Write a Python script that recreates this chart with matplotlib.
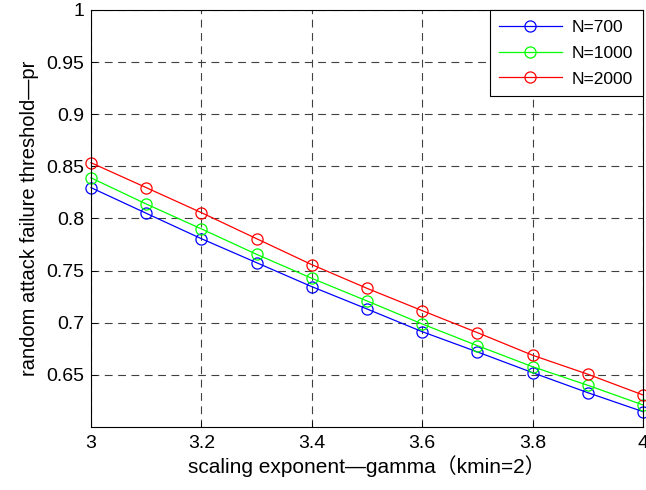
import matplotlib
matplotlib.use("Agg")
import matplotlib.pyplot as plt

# gamma values on x axis
gamma = [3.0, 3.1, 3.2, 3.3, 3.4, 3.5, 3.6, 3.7, 3.8, 3.9, 4.0]

# threshold values
pr_700 = [0.8296, 0.8050, 0.7806, 0.7576, 0.7346, 0.7132, 0.6914, 0.6720, 0.6521, 0.6329, 0.6147]
pr_1000 = [0.8390, 0.8139, 0.7900, 0.7656, 0.7426, 0.7209, 0.6988, 0.6780, 0.6578, 0.6400, 0.6211]
pr_2000 = [0.8535, 0.8296, 0.8056, 0.7806, 0.7557, 0.7330, 0.7116, 0.6905, 0.6688, 0.6506, 0.6307]

labels = ["N=700", "N=1000", "N=2000"]
colors = ["#0000ff", "#00ff00", "#ff0000"]

xticks = [3, 3.2, 3.4, 3.6, 3.8, 4]
xticklabels = ["3", "3.2", "3.4", "3.6", "3.8", "4"]
yticks = [0.65, 0.7, 0.75, 0.8, 0.85, 0.9, 0.95, 1]
yticklabels = ["0.65", "0.7", "0.75", "0.8", "0.85", "0.9", "0.95", "1"]

plt.rcParams['font.family'] = ['Liberation Sans', 'Noto Sans CJK SC', 'DejaVu Sans']

fig = plt.figure(figsize=(6.46, 4.9), dpi=100)
ax = fig.add_axes([0.1409, 0.1286, 0.8545, 0.851])

for vals, lab, col in zip([pr_700, pr_1000, pr_2000], labels, colors):
    ax.plot(gamma, vals, color=col, lw=0.9, marker="o", markersize=8,
            markerfacecolor="none", markeredgecolor=col, markeredgewidth=0.9,
            label=lab, clip_on=False)

ax.set_xlim(3, 4)
ax.set_ylim(0.6, 1)
ax.set_xticks(xticks)
ax.set_xticklabels(xticklabels)
ax.set_yticks(yticks)
ax.set_yticklabels(yticklabels)
ax.tick_params(direction="in", labelsize=14, length=4, width=0.6)
ax.tick_params(axis="x", pad=6)
ax.tick_params(axis="y", pad=5)
ax.grid(True, color="#404040", linestyle=(0, (7, 5)), linewidth=0.8)
for s in ax.spines.values():
    s.set_linewidth(0.8)

ax.set_xlabel("scaling exponent\u2014gamma\uff08kmin=2\uff09", fontsize=15, labelpad=2)
ax.set_ylabel("random attack failure threshold\u2014pr", fontsize=14.5, labelpad=5)

leg = ax.legend(loc="upper right", fontsize=12.5, fancybox=False, framealpha=1,
                edgecolor="black", borderaxespad=0.0, handlelength=3.6,
                handletextpad=0.6, borderpad=0.55, labelspacing=0.62)
leg.get_frame().set_linewidth(0.8)

fig.savefig("out.png", dpi=100)
